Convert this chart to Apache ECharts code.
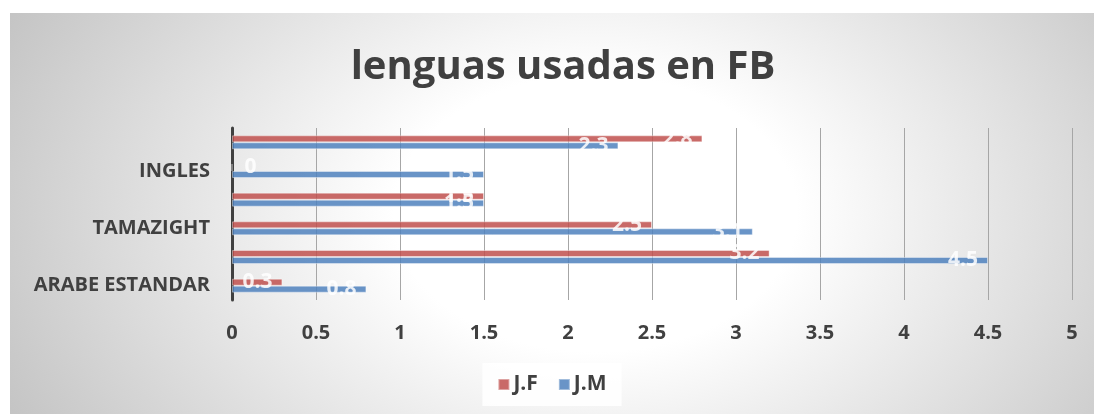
<!DOCTYPE html>
<html>
<head>
<meta charset="utf-8">
<script src="https://cdn.jsdelivr.net/npm/echarts@6/dist/echarts.min.js"></script>
<style>
  html, body { margin: 0; padding: 0; background: #ffffff; }
  #chart {
    position: absolute; left: 10px; top: 13px; width: 1084px; height: 401px;
    background: radial-gradient(ellipse 62% 115% at 54% 50%, #ffffff 30%, #c2c2c2 100%);
  }
</style>
</head>
<body>
<div id="chart"></div>
<script>
// categorias de abajo hacia arriba (solo se ven una de cada dos)
var categories = ['ARABE ESTANDAR', '', 'TAMAZIGHT', '', 'INGLES', ''];
var jfValues = [0.3, 3.2, 2.5, 1.5, 0, 2.8];
var jmValues = [0.8, 4.5, 3.1, 1.5, 1.5, 2.3];
var xTicks = [0, 0.5, 1, 1.5, 2, 2.5, 3, 3.5, 4, 4.5, 5];

var font = "'Open Sans', 'Liberation Sans', sans-serif";
var textColor = '#404040';

function barData(values){
	return values.map(function(v){
		// Excel pone la etiqueta del 0 a la derecha del eje
		if(v === 0){
			return { value: v, label: { position: 'right', distance: 12 } };
		}
		return v;
	});
}

function barSeries(name, color, values){
	return {
		name: name,
		type: 'bar',
		barWidth: 7,
		barGap: '0%',
		data: barData(values),
		itemStyle: {
			color: color,
			opacity: 0.85,
			borderColor: 'rgba(255,255,255,0.45)',
			borderWidth: 1
		},
		label: {
			show: true,
			position: 'insideRight',
			distance: 10,
			color: '#ffffff',
			fontFamily: font,
			fontWeight: 'bold',
			fontSize: 21
		}
	};
}

var chart = echarts.init(document.getElementById('chart'));
chart.setOption({
	backgroundColor: 'transparent',
	animation: false,
	title: {
		text: 'lenguas usadas en FB',
		left: 548,
		textAlign: 'center',
		top: 30,
		textStyle: {
			fontFamily: font,
			fontWeight: 'bold',
			fontSize: 40,
			color: textColor
		}
	},
	legend: {
		data: ['J.F', 'J.M'],
		left: 'center',
		bottom: 8,
		itemWidth: 11,
		itemHeight: 11,
		itemGap: 20,
		padding: [11, 15, 11, 15],
		backgroundColor: 'rgba(255,255,255,0.85)',
		icon: 'rect',
		textStyle: {
			fontFamily: font,
			fontWeight: 'bold',
			fontSize: 21,
			color: textColor,
			padding: [0, 0, 0, -1]
		}
	},
	grid: {
		left: 222,
		right: 22,
		top: 115,
		bottom: 114,
		containLabel: false
	},
	xAxis: {
		type: 'value',
		min: xTicks[0],
		max: xTicks[xTicks.length - 1],
		interval: 0.5,
		axisLine: { show: false },
		axisTick: { show: false },
		splitLine: { show: true, lineStyle: { color: '#a6a6a6', width: 1 } },
		axisLabel: {
			margin: 23,
			fontFamily: font,
			fontWeight: 'bold',
			fontSize: 20,
			color: textColor
		}
	},
	yAxis: {
		type: 'category',
		data: categories,
		axisTick: { show: false },
		axisLine: { show: true, lineStyle: { color: '#404040', width: 3 } },
		axisLabel: {
			interval: 0,
			margin: 22,
			fontFamily: font,
			fontWeight: 'bold',
			fontSize: 20,
			color: textColor
		}
	},
	series: [
		barSeries('J.F', '#c0504d', jfValues),
		barSeries('J.M', '#4f81bd', jmValues)
	]
});
</script>
</body>
</html>
